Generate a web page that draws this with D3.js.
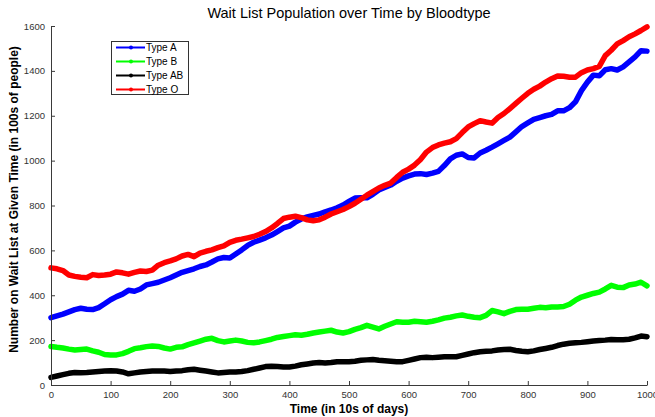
<!DOCTYPE html>
<html><head><meta charset="utf-8">
<script src="https://cdn.jsdelivr.net/npm/d3@7"></script>
<style>body{margin:0;background:#fff}svg{display:block}</style>
</head><body>
<svg id="c" width="655" height="417"></svg>
<script>
const time = d3.range(0, 1001, 10);
const typeA = [300,308,316,326,336,342,338,336,345,362,380,394,405,422,418,428,446,452,458,468,478,490,502,510,518,528,535,548,562,568,566,584,602,622,636,646,656,668,684,700,708,726,740,749,756,762,772,780,790,802,818,833,834,834,850,869,880,891,908,922,932,940,942,938,944,952,978,1008,1024,1030,1014,1012,1034,1046,1060,1075,1090,1105,1128,1152,1168,1184,1192,1200,1206,1222,1222,1236,1262,1312,1350,1381,1378,1405,1410,1404,1418,1440,1462,1490,1488];
const typeB = [172,168,165,160,156,158,160,152,146,136,134,134,140,150,162,166,171,174,172,165,160,168,170,180,188,196,204,208,198,192,196,200,196,190,188,192,198,204,212,216,220,224,222,226,232,236,240,244,236,232,238,248,256,266,258,250,262,272,282,280,280,284,282,280,284,290,298,302,308,312,306,302,300,310,332,326,318,328,336,338,338,342,346,344,348,348,350,360,378,392,400,408,414,428,444,436,434,446,450,458,442];
const typeAB = [34,40,46,52,56,55,56,58,60,62,64,62,58,50,54,58,60,62,62,62,60,62,64,68,70,66,62,58,54,56,58,58,60,64,70,76,82,84,82,80,80,84,90,94,98,100,98,100,104,104,104,106,110,112,114,110,108,106,104,104,110,116,122,124,122,124,126,126,126,132,138,144,148,150,152,156,158,159,154,150,148,152,158,163,168,176,182,186,188,190,193,196,198,200,203,202,202,204,210,218,215];
const typeO = [522,518,510,490,484,480,478,492,488,490,494,504,500,494,502,508,506,512,534,545,553,562,575,582,572,588,596,602,612,620,636,645,650,656,662,672,684,700,720,742,748,752,746,736,732,736,748,762,772,782,795,810,828,846,862,878,890,900,925,948,962,980,1005,1038,1058,1070,1078,1084,1098,1125,1150,1165,1178,1172,1167,1192,1210,1232,1255,1278,1300,1318,1332,1350,1365,1377,1376,1372,1372,1392,1404,1410,1420,1468,1492,1520,1535,1552,1565,1580,1596];
const seriesNames = ["Type A","Type B","Type AB","Type O"];
const seriesColors = ["#0000ff","#00ff00","#000000","#ff0000"];
const xTicks = [0,100,200,300,400,500,600,700,800,900,1000];
const yTicks = [0,200,400,600,800,1000,1200,1400,1600];

const svg = d3.select("#c");
const L=51, R=647, T=26, B=385;
const x = d3.scaleLinear().domain([0,1000]).range([L,R]);
const y = d3.scaleLinear().domain([0,1600]).range([B,T]);
const all = [typeA,typeB,typeAB,typeO];

const line = d3.line().x((d,i)=>x(time[i])).y(d=>y(d));
all.forEach((s,k)=>{
  svg.append("path").datum(s).attr("d",line)
    .attr("fill","none").attr("stroke",seriesColors[k])
    .attr("stroke-width",5.5).attr("stroke-linejoin","round").attr("stroke-linecap","round");
});

const axCol="#3a3a3a";
const fmt = d3.format("d");
const xa = svg.append("g").attr("transform",`translate(0,${B})`)
  .call(d3.axisBottom(x).tickValues(xTicks).tickFormat(fmt).tickSizeInner(-4).tickSizeOuter(0).tickPadding(6));
const ya = svg.append("g").attr("transform",`translate(${L},0)`)
  .call(d3.axisLeft(y).tickValues(yTicks).tickFormat(fmt).tickSizeInner(-4).tickSizeOuter(0).tickPadding(6));
[xa,ya].forEach(g=>{
  g.select(".domain").attr("stroke",axCol);
  g.selectAll(".tick line").attr("stroke",axCol);
  g.selectAll("text").attr("font-family","Liberation Sans, Arial, sans-serif").attr("font-size",9.5).attr("fill","#333");
});

svg.append("text").attr("x",(L+R)/2).attr("y",18).attr("text-anchor","middle")
  .attr("font-family","Liberation Sans, Arial, sans-serif").attr("font-size",14.5).attr("fill","#000")
  .text("Wait List Population over Time by Bloodtype");
svg.append("text").attr("x",(L+R)/2).attr("y",413).attr("text-anchor","middle")
  .attr("font-family","Liberation Sans, Arial, sans-serif").attr("font-size",12).attr("font-weight","bold").attr("fill","#000")
  .text("Time (in 10s of days)");
svg.append("text").attr("transform",`translate(18,${(T+B)/2 -6}) rotate(-90)`).attr("text-anchor","middle")
  .attr("font-family","Liberation Sans, Arial, sans-serif").attr("font-size",12).attr("font-weight","bold").attr("fill","#000")
  .text("Number on Wait List at Given Time (in 100s of people)");

const lg = svg.append("g");
lg.append("rect").attr("x",111.5).attr("y",41.5).attr("width",77).attr("height",53)
  .attr("fill","#fff").attr("stroke","#333").attr("stroke-width",1);
seriesNames.forEach((n,k)=>{
  const yy = 47.5 + k*14;
  lg.append("line").attr("x1",116).attr("x2",145).attr("y1",yy).attr("y2",yy)
    .attr("stroke",seriesColors[k]).attr("stroke-width",2);
  lg.append("circle").attr("cx",131).attr("cy",yy).attr("r",2).attr("fill",seriesColors[k]);
  lg.append("text").attr("x",146).attr("y",yy+3.5)
    .attr("font-family","Liberation Sans, Arial, sans-serif").attr("font-size",10).attr("fill","#000").text(n);
});
</script>
</body></html>
